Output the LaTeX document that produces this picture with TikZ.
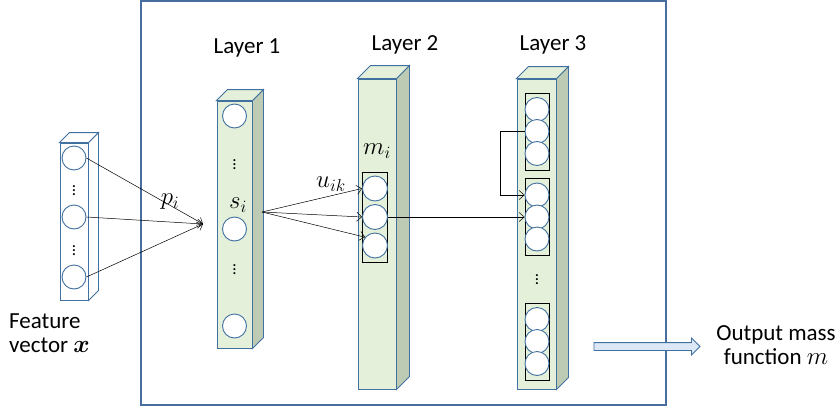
\documentclass[tikz,border=0pt]{standalone}
\usepackage{amsmath}
\usepackage{fontspec}
\setmainfont{Carlito}
\usetikzlibrary{arrows.meta,calc,shapes.arrows}
\definecolor{edgeblue}{RGB}{65,113,160}
\definecolor{framblue}{RGB}{72,110,160}
\definecolor{slabgreen}{RGB}{228,240,218}
\definecolor{slabshade}{RGB}{190,203,180}
\definecolor{arrowfill}{RGB}{220,232,245}
% top and side faces of a slab node: #1 node, #2 depth, #3 side fill, #4 top fill
\newcommand{\slabfaces}[4]{%
  \draw[edgeblue,line width=0.9pt,fill=#3] (#1.north east) -- ++(#2,-#2)
    -- ($(#1.south east)+(#2,-#2)$) -- (#1.south east) -- cycle;
  \draw[edgeblue,line width=0.9pt,fill=#4] (#1.north west) -- ++(#2,-#2)
    -- ($(#1.north east)+(#2,-#2)$) -- (#1.north east) -- cycle;}

\begin{document}
\begin{tikzpicture}[x=1pt,y=-1pt,
  lbl/.style={font=\fontsize{23}{24}\selectfont,inner sep=0pt},
  slab/.style={draw=edgeblue,fill=slabgreen,line width=0.9pt,inner sep=0pt},
  grp/.style={draw=black,fill=slabgreen,line width=0.8pt,inner sep=0pt,
    minimum width=25pt},
  unit/.style={circle,draw=edgeblue,fill=white,line width=0.9pt,
    inner sep=0pt,minimum size=24pt},
  dots/.style={font=\fontsize{17}{17}\selectfont,inner sep=0pt},
  arr/.style={-{Straight Barb[length=5pt,width=9pt]},line width=0.5pt},
  panel/.style={draw=framblue,line width=1.2pt}]

\useasboundingbox (0,0) rectangle (840,407);
\draw[panel] (141,1) rectangle (666,405);

% feature vector
\node[slab,fill=white,minimum width=28pt,minimum height=157pt] (fv) at (74,221.5) {};
\slabfaces{fv}{10}{white}{white}
\node[unit] (f1) at (74,158) {};
\node[unit] (f2) at (74,217) {};
\node[unit] (f3) at (74,277) {};
\node[dots] (fd1) at (74,188) {$\vdots$};
\node[dots] (fd2) at (74,248) {$\vdots$};
\node[lbl,align=left,anchor=north west] (fvtext) at (9,314)
  {Feature\\vector $\boldsymbol{x}$};

% layer 1
\node[slab,minimum width=35pt,minimum height=247pt] (l1) at (234.5,224.5) {};
\slabfaces{l1}{11}{slabshade}{slabgreen}
\node[lbl] (t1) at (247,48) {Layer 1};
\node[unit] (s1) at (234.5,116) {};
\node[unit] (s2) at (234.5,229) {};
\node[unit] (s3) at (234.5,326) {};
\node[dots] (sd1) at (234.5,162) {$\vdots$};
\node[dots] (sd2) at (234.5,267) {$\vdots$};
\node[lbl] (ls) at (238,205) {$s_i$};

% layer 2
\node[slab,minimum width=38pt,minimum height=310pt] (l2) at (377,234) {};
\slabfaces{l2}{13}{slabshade}{slabgreen}
\node[lbl] (t2) at (405,45) {Layer 2};
\node[grp,minimum height=90pt] (g2) at (375,217) {};
\node[unit,minimum size=25pt] (m1) at (375,188.5) {};
\node[unit,minimum size=25pt] (m2) at (375,217) {};
\node[unit,minimum size=25pt] (m3) at (375,245.5) {};
\node[lbl] (lm) at (377,151) {$m_i$};

% layer 3
\node[slab,minimum width=39pt,minimum height=310pt] (l3) at (536.5,234) {};
\slabfaces{l3}{12}{slabshade}{slabgreen}
\node[lbl] (t3) at (553,45) {Layer 3};
\node[grp,minimum width=24pt,minimum height=77pt] (g31) at (537,131.5) {};
\node[grp,minimum width=24pt,minimum height=77pt] (g32) at (537,217) {};
\node[grp,minimum width=24pt,minimum height=77pt] (g33) at (537,341.5) {};
\node[unit] (c11) at (537,109.5) {};
\node[unit] (c12) at (537,131.5) {};
\node[unit] (c13) at (537,153.5) {};
\node[unit] (c21) at (537,195) {};
\node[unit] (c22) at (537,217) {};
\node[unit] (c23) at (537,239) {};
\node[unit] (c31) at (537,319.5) {};
\node[unit] (c32) at (537,341.5) {};
\node[unit] (c33) at (537,363.5) {};
\node[dots] (cd) at (537,277) {$\vdots$};

% connections
\coordinate (hub) at (203,224);
\coordinate (sout) at (262,212);
\draw[arr] (f1.east) -- (hub);
\draw[arr] (f2.east) -- (hub);
\draw[arr] (f3.east) -- (hub);
\node[lbl] (lp) at (170,202) {$p_i$};
\draw[arr] (sout) -- (m1.west);
\draw[arr] (sout) -- (m2.west);
\draw[arr] (sout) -- (m3.140);
\node[lbl] (lu) at (331,184) {$u_{ik}$};
\draw[arr] (m2.east) -- (c22.west);
\draw[arr] (c12.west) -- ++(-24,0) |- (c21.west);

% output
\node[single arrow,draw=edgeblue,fill=arrowfill,line width=0.8pt,
  minimum height=106pt,minimum width=16pt,inner sep=3.5pt,
  single arrow head extend=4.5pt] (outarr) at (645,346.5) {};
\node[lbl,align=center] (outtext) at (776,345) {Output mass\\function $m$};
\end{tikzpicture}
\end{document}
